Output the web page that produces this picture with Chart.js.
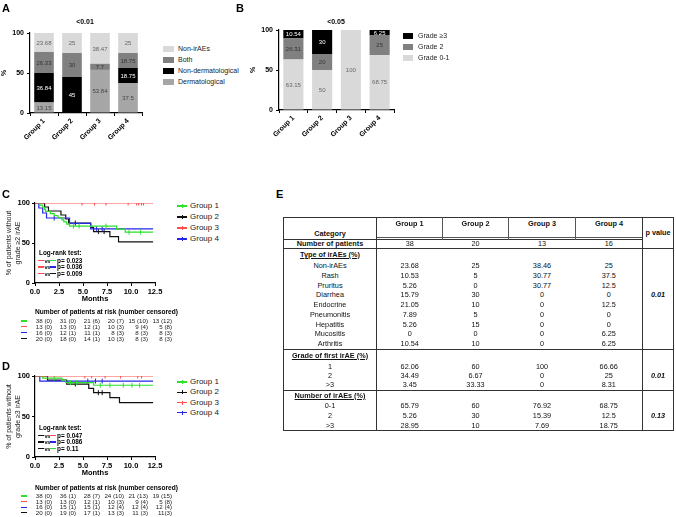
<!DOCTYPE html>
<html>
<head>
<meta charset="utf-8">
<script src="https://cdn.jsdelivr.net/npm/chart.js@4.4.1/dist/chart.umd.min.js"></script>
<style>
  body { margin:0; background:#fff; }
  #page { position:relative; width:676px; height:517px; overflow:hidden; font-family:Arial, "Liberation Sans", sans-serif; color:#000; }
  canvas { position:absolute; }
  .t { position:absolute; white-space:nowrap; line-height:10px; }
  .panel { font-weight:bold; font-size:11px; }
  .leg { font-size:7px; color:#222; }
  .kleg { font-size:8px; color:#222; }
  .bt { font-weight:bold; font-size:7px; }
  .risk { font-size:6.2px; color:#222; }
  .rh { font-size:6.6px; font-weight:bold; }
  .lr { font-size:6.4px; font-weight:bold; }
  .vs { font-size:5.6px; font-weight:bold; letter-spacing:-0.3px; }
  .box { position:absolute; }
  #tblE { position:absolute; left:283px; top:217px; border-collapse:collapse; table-layout:fixed; font-size:7.3px; color:#111; border:1.5px solid #333; }
  #tblE td, #tblE th { padding:0; text-align:center; overflow:hidden; white-space:nowrap; }
  #tblE th { font-weight:bold; }
  #tblE .c0 { border-right:1.5px solid #333; }
  #tblE .c4 { border-right:1.5px solid #333; }
  #tblE .sec td { border-top:1.2px solid #333; }
  #tblE .head { font-weight:bold; text-decoration:underline; }
  #tblE .pv { font-weight:bold; font-style:italic; }
</style>
</head>
<body>
<div id="page">
  <canvas id="chartA" width="160" height="160" style="left:0;top:0"></canvas>
  <canvas id="chartB" width="170" height="160" style="left:240px;top:0"></canvas>
  <canvas id="chartC" width="175" height="125" style="left:0;top:190px"></canvas>
  <canvas id="chartD" width="175" height="125" style="left:0;top:363px"></canvas>
</div>
<script>
Chart.defaults.font.family = 'Arial, "Liberation Sans", sans-serif';
Chart.defaults.color = '#000';

// ---- panel A / B data ----
const groups = ['Group 1', 'Group 2', 'Group 3', 'Group 4'];

const aNonIrae = [23.68, 25, 38.47, 25];
const aBoth = [26.33, 30, 7.7, 18.75];
const aNonDerm = [36.84, 45, 0, 18.75];
const aDerm = [13.15, 0, 53.84, 37.5];
const aPvalue = '<0.01';

const bGrade3 = [10.54, 30, 0, 6.25];
const bGrade2 = [26.31, 20, 0, 25];
const bGrade01 = [63.15, 50, 100, 68.75];
const bPvalue = '<0.05';

// ---- panel C (grade >=2) KM ----
const cG1Time = [0, 0.5, 0.8, 1.0, 1.1, 1.6, 2.0, 2.4, 2.8, 3.0, 3.3, 3.6, 8.5, 9.4, 12.3];
const cG1Surv = [100, 97.4, 94.7, 92.1, 89.5, 86.8, 84.2, 81.6, 78.9, 76.3, 73.7, 71.1, 67.4, 63.6, 63.6];
const cG1CensTime = [4.0, 4.6, 7.4, 9.8, 11.0];
const cG1CensSurv = [71.1, 71.1, 71.1, 63.6, 63.6];
const cG2Time = [0, 1.0, 1.4, 2.7, 3.2, 3.5, 5.8, 6.1, 7.8, 8.7, 12.3];
const cG2Surv = [100, 95, 90, 85, 80, 75, 69.6, 64.3, 57.9, 51.4, 51.4];
const cG2CensTime = [4.2, 6.6, 7.2];
const cG2CensSurv = [75, 64.3, 64.3];
const cG3Time = [0, 12.3];
const cG3Surv = [100, 100];
const cG3CensTime = [4.9, 6.2, 7.4, 9.7, 10.6, 10.8, 11.1, 11.3];
const cG3CensSurv = [100, 100, 100, 100, 100, 100, 100, 100];
const cG4Time = [0, 0.4, 0.8, 1.2, 3.6, 5.8, 12.3];
const cG4Surv = [100, 93.75, 87.5, 81.25, 74.5, 67.7, 67.7];
const cG4CensTime = [2.0, 6.4, 7.0];
const cG4CensSurv = [81.25, 67.7, 67.7];

// ---- panel D (grade >=3) KM ----
const dG1Time = [0, 0.8, 2.8, 3.2, 6.1, 12.3];
const dG1Surv = [100, 97.4, 94.7, 91.9, 88.6, 88.6];
const dG1CensTime = [2.0, 3.7, 4.3, 6.8, 7.8, 9.2, 10.1, 10.9];
const dG1CensSurv = [97.4, 91.9, 91.9, 88.6, 88.6, 88.6, 88.6, 88.6];
const dG2Time = [0, 1.3, 3.3, 5.6, 6.1, 7.8, 8.8, 12.3];
const dG2Surv = [100, 95, 90, 84.7, 79.4, 73.3, 67.2, 67.2];
const dG2CensTime = [4.2, 6.6, 7.0];
const dG2CensSurv = [90, 79.4, 79.4];
const dG3Time = [0, 12.3];
const dG3Surv = [100, 100];
const dG3CensTime = [5.2, 5.9, 7.3, 8.9, 10.7, 11.1];
const dG3CensSurv = [100, 100, 100, 100, 100, 100];
const dG4Time = [0, 0.5, 12.3];
const dG4Surv = [100, 93.75, 93.75];
const dG4CensTime = [5.5, 6.3, 7.0];
const dG4CensSurv = [93.75, 93.75, 93.75];

// numbers at risk (censored), rows: group 1, 3, 4, 2
const riskTimes = [0, 2.5, 5, 7.5, 10, 12.5];
const cRiskG1 = ['38 (0)', '31 (0)', '21 (6)', '20 (7)', '15 (10)', '13 (12)'];
const cRiskG3 = ['13 (0)', '13 (0)', '12 (1)', '10 (3)', '9 (4)', '5 (8)'];
const cRiskG4 = ['16 (0)', '12 (1)', '11 (1)', '8 (3)', '8 (3)', '8 (3)'];
const cRiskG2 = ['20 (0)', '18 (0)', '14 (1)', '10 (3)', '8 (3)', '8 (3)'];
const dRiskG1 = ['38 (0)', '36 (1)', '28 (7)', '24 (10)', '21 (13)', '19 (15)'];
const dRiskG3 = ['13 (0)', '13 (0)', '12 (1)', '10 (3)', '9 (4)', '5 (8)'];
const dRiskG4 = ['16 (0)', '15 (1)', '15 (1)', '12 (4)', '12 (4)', '12 (4)'];
const dRiskG2 = ['20 (0)', '19 (0)', '17 (1)', '13 (3)', '11 (3)', '11(3)'];

// log-rank tests
const cLogRankVs = ['g1', 'g4', 'g2'];
const cLogRankP = ['0.023', '0.036', '0.009'];
const dLogRankVs = ['g3', 'g4', 'g1'];
const dLogRankP = ['0.047', '0.086', '0.11'];

// ---- panel E table ----
const ePatients = [38, 20, 13, 16];
const typeNames = ['Non-irAEs', 'Rash', 'Pruritus', 'Diarrhea', 'Endocrine', 'Pneumonitis', 'Hepatitis', 'Mucositis', 'Arthritis'];
const typeG1 = [23.68, 10.53, 5.26, 15.79, 21.05, 7.89, 5.26, 0, 10.54];
const typeG2 = [25, 5, 0, 30, 10, 5, 15, 0, 10];
const typeG3 = [38.46, 30.77, 30.77, 0, 0, 0, 0, 0, 0];
const typeG4 = [25, 37.5, 12.5, 0, 12.5, 0, 0, 6.25, 6.25];
const gradeNames = ['1', '2', '>3'];
const gradeG1 = [62.06, 34.49, 3.45];
const gradeG2 = [60, 6.67, 33.33];
const gradeG3 = [100, 0, 0];
const gradeG4 = [66.66, 25, 8.31];
const countNames = ['0-1', '2', '>3'];
const countG1 = [65.79, 5.26, 28.95];
const countG2 = [60, 30, 10];
const countG3 = [76.92, 15.39, 7.69];
const countG4 = [68.75, 12.5, 18.75];
const ePvalues = ['0.01', '0.01', '0.13'];

const kmColor = { g1: '#2ee02e', g2: '#111111', g3: '#ff4d4d', g4: '#2626e6' };

const page = document.getElementById('page');
function put(text, x, y, cls, align) {
  const d = document.createElement('div');
  d.className = 't ' + (cls || '');
  d.textContent = text;
  d.style.left = x + 'px';
  d.style.top = (y - 5) + 'px';
  if (align === 'center') d.style.transform = 'translateX(-50%)';
  if (align === 'right') d.style.transform = 'translateX(-100%)';
  page.appendChild(d);
  return d;
}
function rect(x, y, w, h, color) {
  const d = document.createElement('div');
  d.className = 'box';
  Object.assign(d.style, { left: x + 'px', top: y + 'px', width: w + 'px', height: h + 'px', background: color });
  page.appendChild(d);
}

// value labels inside stacked segments
const segLabels = {
  id: 'segLabels',
  afterDatasetsDraw(chart) {
    const ctx = chart.ctx;
    ctx.save();
    ctx.font = '6px Arial, "Liberation Sans", sans-serif';
    ctx.textAlign = 'center';
    ctx.textBaseline = 'middle';
    chart.data.datasets.forEach((ds, di) => {
      chart.getDatasetMeta(di).data.forEach((bar, i) => {
        const v = ds.data[i];
        if (!v) return;
        ctx.fillStyle = ds.labelColor;
        ctx.fillText(String(v), bar.x, (bar.y + bar.base) / 2 + 0.5);
      });
    });
    ctx.restore();
  }
};

function barChart(id, datasets, pad, yW, xH) {
  return new Chart(document.getElementById(id), {
    type: 'bar',
    data: { labels: groups, datasets },
    options: {
      animation: false, responsive: false, events: [],
      layout: { padding: pad },
      plugins: { legend: { display: false }, tooltip: { enabled: false } },
      datasets: { bar: { barPercentage: 0.7, categoryPercentage: 1.0, borderWidth: 0 } },
      scales: {
        x: {
          stacked: true,
          ticks: { minRotation: 45, maxRotation: 45, font: { size: 7, weight: 'bold' }, padding: 1 },
          grid: { drawOnChartArea: false, tickLength: 3, color: '#000', lineWidth: 1 },
          border: { color: '#000', width: 1.2 },
          afterFit: s => { s.height = xH; s.paddingLeft = 0; s.paddingRight = 0; }
        },
        y: {
          stacked: true, min: 0, max: 100,
          ticks: { stepSize: 50, font: { size: 7, weight: 'bold' }, padding: 3 },
          grid: { drawOnChartArea: false, tickLength: 3, color: '#000' },
          border: { color: '#000', width: 1.2 },
          title: { display: true, text: '%', font: { size: 7, weight: 'bold' }, padding: 0 },
          afterFit: s => { s.width = yW; s.paddingTop = 0; s.paddingBottom = 0; }
        }
      }
    },
    plugins: [segLabels]
  });
}

// Panel A
const aSets = [
  { label: 'Dermatological', data: aDerm, backgroundColor: '#a6a6a6', labelColor: '#444' },
  { label: 'Non-dermatological', data: aNonDerm, backgroundColor: '#000000', labelColor: '#fff' },
  { label: 'Both', data: aBoth, backgroundColor: '#808080', labelColor: '#333' },
  { label: 'Non-irAEs', data: aNonIrae, backgroundColor: '#d9d9d9', labelColor: '#666' }
];
barChart('chartA', aSets, { left: 0, top: 33, right: 18, bottom: 0 }, 30, 47);

// Panel B
const bSets = [
  { label: 'Grade 0-1', data: bGrade01, backgroundColor: '#d9d9d9', labelColor: '#666' },
  { label: 'Grade 2', data: bGrade2, backgroundColor: '#808080', labelColor: '#333' },
  { label: 'Grade \u22653', data: bGrade3, backgroundColor: '#000000', labelColor: '#fff' }
];
barChart('chartB', bSets, { left: 9, top: 30, right: 16, bottom: 0 }, 30, 50);

// bar legends (top item = top of stack)
[...aSets].reverse().forEach((ds, i) => {
  const y = 49 + i * 11;
  rect(163, y - 3, 11, 6, ds.backgroundColor);
  put(ds.label, 178, y, 'leg');
});
[...bSets].reverse().forEach((ds, i) => {
  const y = 36 + i * 11;
  rect(403, y - 3, 10, 6, ds.backgroundColor);
  put(ds.label, 418, y, 'leg');
});
put(aPvalue, 85, 22, 'bt', 'center');
put(bPvalue, 336, 22, 'bt', 'center');

// KM charts
function kmChart(id, curves, yTitle, pad) {
  const datasets = [];
  curves.forEach(c => {
    datasets.push({ data: c.t.map((t, i) => ({ x: t, y: c.s[i] })), showLine: true, stepped: true,
      borderColor: c.color, borderWidth: 1.2, pointRadius: 0 });
    datasets.push({ data: c.ct.map((t, i) => ({ x: t, y: c.cs[i] })), showLine: false,
      pointStyle: 'line', rotation: 90, pointRadius: 2.5, borderColor: c.color, borderWidth: 1 });
  });
  return new Chart(document.getElementById(id), {
    type: 'scatter',
    data: { datasets },
    options: {
      animation: false, responsive: false, events: [],
      layout: { padding: pad },
      plugins: { legend: { display: false }, tooltip: { enabled: false } },
      scales: {
        x: {
          type: 'linear', min: 0, max: 12.5,
          ticks: { stepSize: 2.5, callback: v => v.toFixed(1), font: { size: 7.5, weight: 'bold' }, padding: 1, maxRotation: 0 },
          grid: { drawOnChartArea: false, tickLength: 3, color: '#000' },
          border: { color: '#000', width: 1.2 },
          title: { display: true, text: 'Months', font: { size: 7.5, weight: 'bold' }, padding: 0 },
          afterFit: s => { s.height = 20; s.paddingLeft = 0; s.paddingRight = 0; }
        },
        y: {
          min: 0, max: 100,
          ticks: { stepSize: 50, font: { size: 7.5, weight: 'bold' }, padding: 2 },
          grid: { drawOnChartArea: false, tickLength: 3, color: '#000' },
          border: { color: '#000', width: 1.2 },
          title: { display: true, text: yTitle, font: { size: 7 }, padding: 0, color: '#222' },
          afterFit: s => { s.width = 30; s.paddingTop = 0; s.paddingBottom = 0; }
        }
      }
    }
  });
}

const chartC = kmChart('chartC', [
  { t: cG3Time, s: cG3Surv, ct: cG3CensTime, cs: cG3CensSurv, color: kmColor.g3 },
  { t: cG1Time, s: cG1Surv, ct: cG1CensTime, cs: cG1CensSurv, color: kmColor.g1 },
  { t: cG4Time, s: cG4Surv, ct: cG4CensTime, cs: cG4CensSurv, color: kmColor.g4 },
  { t: cG2Time, s: cG2Surv, ct: cG2CensTime, cs: cG2CensSurv, color: kmColor.g2 }
], ['% of patients without', 'grade \u22652 irAE'], { left: 5, top: 13, right: 20, bottom: 12 });

const chartD = kmChart('chartD', [
  { t: dG3Time, s: dG3Surv, ct: dG3CensTime, cs: dG3CensSurv, color: kmColor.g3 },
  { t: dG1Time, s: dG1Surv, ct: dG1CensTime, cs: dG1CensSurv, color: kmColor.g1 },
  { t: dG4Time, s: dG4Surv, ct: dG4CensTime, cs: dG4CensSurv, color: kmColor.g4 },
  { t: dG2Time, s: dG2Surv, ct: dG2CensTime, cs: dG2CensSurv, color: kmColor.g2 }
], ['% of patients without', 'grade \u22653 irAE'], { left: 5, top: 13, right: 20, bottom: 11 });

function kmLegend(y0, dy) {
  ['g1', 'g2', 'g3', 'g4'].forEach((g, i) => {
    const y = y0 + i * dy;
    rect(177, y - 0.6, 10, 1.2, kmColor[g]);
    rect(181.5, y - 2, 1, 4, kmColor[g]);
    put('Group ' + g.slice(1), 190, y, 'kleg');
  });
}
kmLegend(206, 11);
kmLegend(382, 10.3);

function logRank(y0, base, vs, ps) {
  put('Log-rank test:', 39, y0, 'lr');
  vs.forEach((g, i) => {
    const y = y0 + 7.5 + i * 6.5;
    rect(38, y - 0.8, 6, 1.6, kmColor[base]);
    put('vs', 44.5, y, 'vs');
    rect(50, y - 0.8, 6, 1.6, kmColor[g]);
    put('p= ' + ps[i], 57, y, 'lr');
  });
}
logRank(253, 'g3', cLogRankVs, cLogRankP);
logRank(428, 'g2', dLogRankVs, dLogRankP);

function riskTable(chart, headerY, y0, dy, rows) {
  put('Number of patients at risk (number censored)', 35, headerY, 'rh');
  const xs = riskTimes.map(t => chart.scales.x.getPixelForValue(t));
  rows.forEach((r, i) => {
    const y = y0 + i * dy;
    rect(21, y - 0.6, 6, 1.2, kmColor[r.g]);
    r.vals.forEach((v, j) => put(v, xs[j] + 17, y, 'risk', 'right'));
  });
}
riskTable(chartC, 312, 321, 5.9, [
  { g: 'g1', vals: cRiskG1 }, { g: 'g3', vals: cRiskG3 }, { g: 'g4', vals: cRiskG4 }, { g: 'g2', vals: cRiskG2 }
]);
riskTable(chartD, 488, 496, 5.6, [
  { g: 'g1', vals: dRiskG1 }, { g: 'g3', vals: dRiskG3 }, { g: 'g4', vals: dRiskG4 }, { g: 'g2', vals: dRiskG2 }
]);

// panel letters
put('A', 2, 8, 'panel');
put('B', 236, 8, 'panel');
put('C', 2, 194, 'panel');
put('D', 2, 366, 'panel');
put('E', 276, 194, 'panel');

// ---- table E ----
const tbl = document.createElement('table');
tbl.id = 'tblE';
const widths = [93, 66, 66, 67, 67, 31];
let html = '<colgroup>' + widths.map(w => `<col style="width:${w}px">`).join('') + '</colgroup>';
html += '<tr style="height:20px"><th class="c0" rowspan="2" style="vertical-align:bottom;line-height:10px">Category</th>';
groups.forEach((g, i) => {
  const br = i < 3 ? 'border-right:1px solid #555;' : '';
  html += `<th class="${i === 3 ? 'c4' : ''}" style="vertical-align:top;line-height:10px;padding-top:1px;${br}">${g}</th>`;
});
html += '<th rowspan="3" style="line-height:10px">p value</th></tr>';
html += '<tr style="height:2px">' + groups.map((g, i) =>
  `<td class="${i === 3 ? 'c4' : ''}" style="border-top:1px solid #555;${i < 3 ? 'border-right:1px solid #555;' : ''}"></td>`).join('') + '</tr>';
html += '<tr style="height:8px;line-height:8px"><th class="c0" style="border-top:1px solid #333">Number of patients</th>' +
  ePatients.map((v, i) => `<td class="${i === 3 ? 'c4' : ''}" style="border-top:1px solid #333">${v}</td>`).join('') + '</tr>';

function section(title, names, cols, p, pRow, heights) {
  let s = `<tr class="sec" style="height:${heights[0]}px;line-height:${heights[0]}px"><td class="c0 head">${title}</td><td></td><td></td><td></td><td class="c4"></td><td></td></tr>`;
  names.forEach((n, r) => {
    const h = heights[r + 1];
    s += `<tr style="height:${h}px;line-height:${h}px"><td class="c0">${n}</td>`;
    cols.forEach((c, k) => { s += `<td class="${k === 3 ? 'c4' : ''}">${c[r]}</td>`; });
    s += `<td class="pv">${r === pRow ? p : ''}</td></tr>`;
  });
  return s;
}
html += section('Type of irAEs (%)', typeNames, [typeG1, typeG2, typeG3, typeG4], ePvalues[0], 3,
  [12, 9.75, 9.75, 9.75, 9.75, 9.75, 9.75, 9.75, 9.75, 9.75]);
html += section('Grade of first irAE (%)', gradeNames, [gradeG1, gradeG2, gradeG3, gradeG4], ePvalues[1], 1,
  [12, 9, 9, 10]);
html += section('Number of irAEs (%)', countNames, [countG1, countG2, countG3, countG4], ePvalues[2], 1,
  [10, 10, 10, 9]);
tbl.innerHTML = html;
page.appendChild(tbl);
</script>
</body>
</html>
